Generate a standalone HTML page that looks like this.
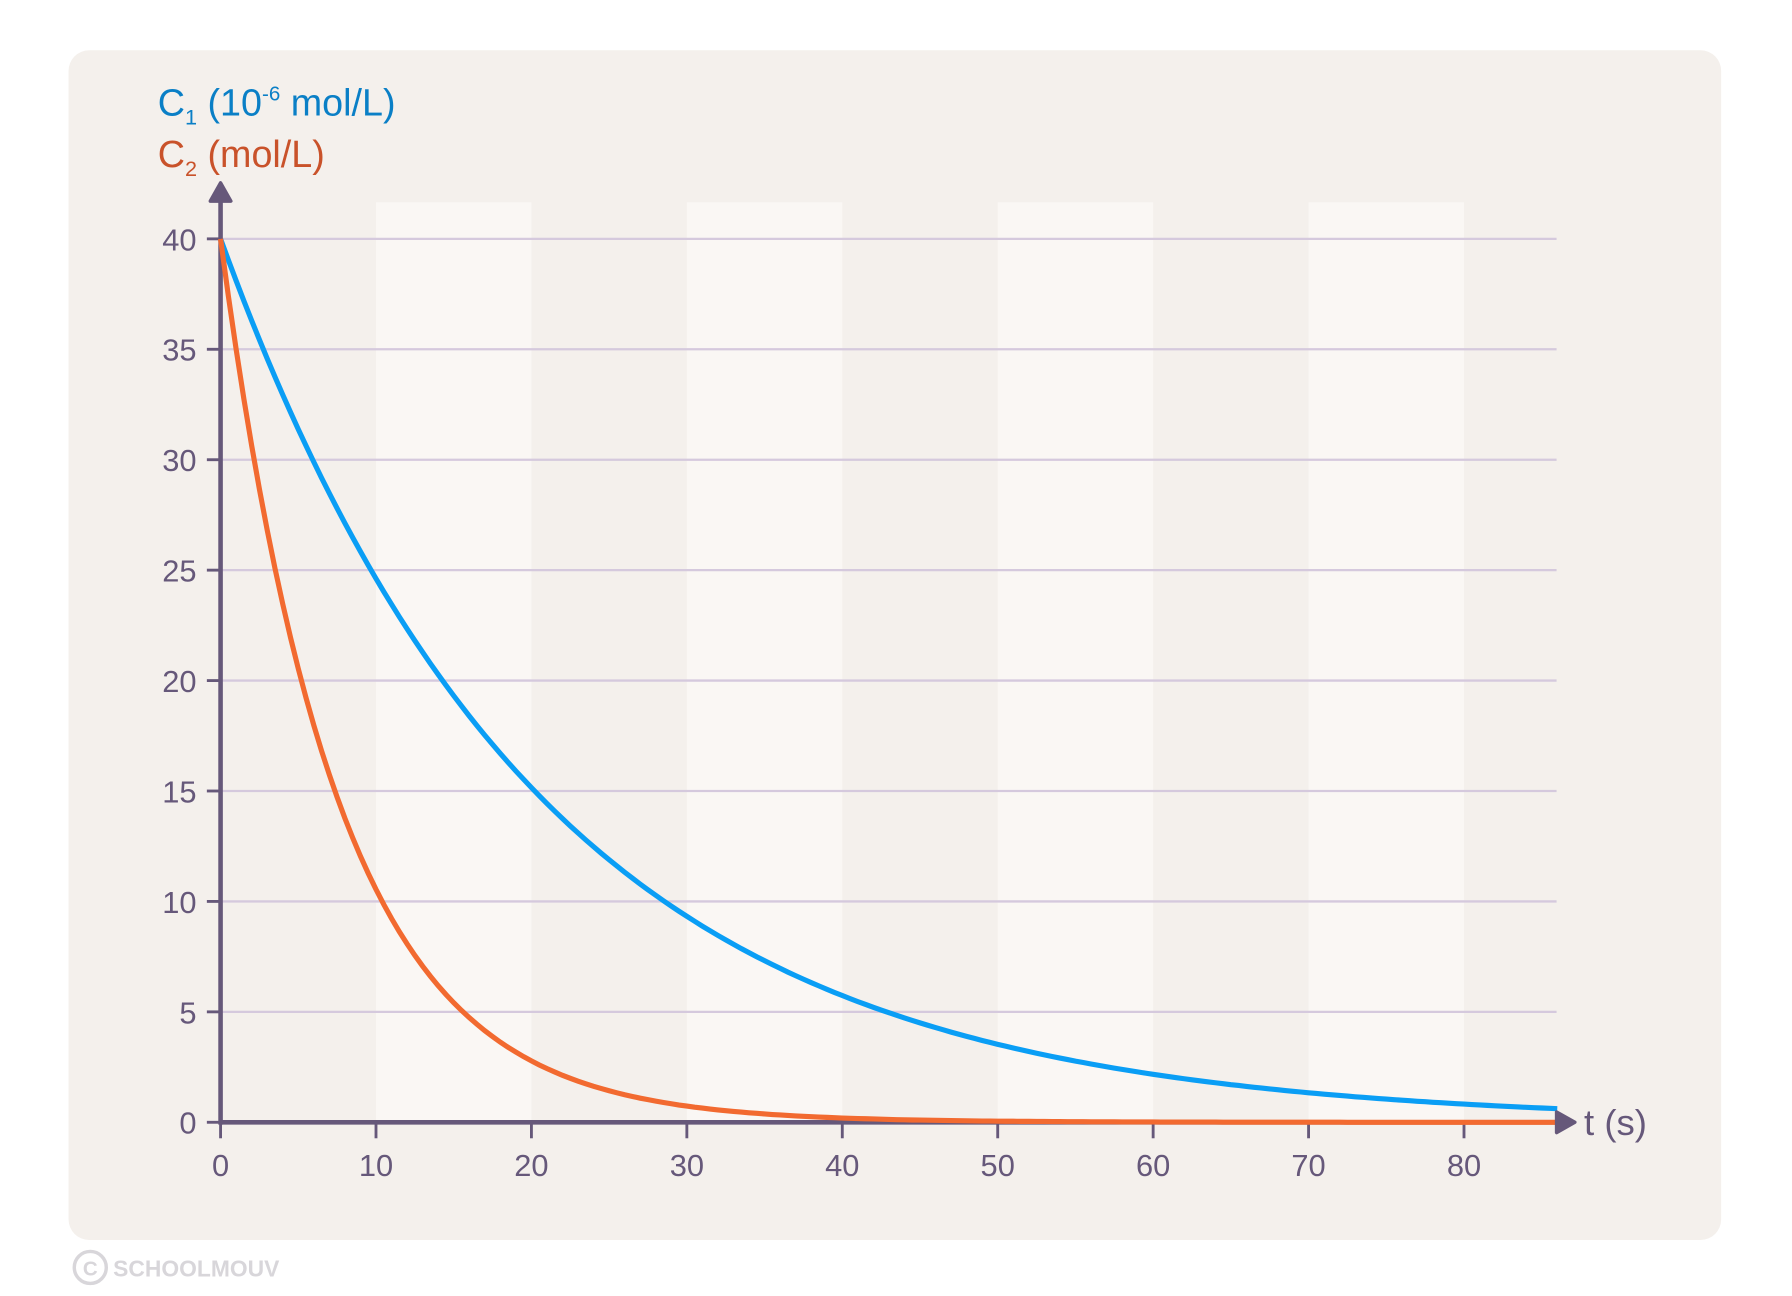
<!DOCTYPE html>
<html><head><meta charset="utf-8"><style>
html,body{margin:0;padding:0;background:#fff}
svg{display:block}
text{font-family:"Liberation Sans",sans-serif}
</style></head><body>
<svg id="s" width="1792" height="1296" viewBox="0 0 1568 1134" preserveAspectRatio="none">
<rect x="60" y="44" width="1446" height="1041" rx="18" fill="#f4f0ec"/>
<g fill="#faf7f4">
<rect x="329" y="177" width="136" height="805"/>
<rect x="601" y="177" width="136" height="805"/>
<rect x="873" y="177" width="136" height="805"/>
<rect x="1145" y="177" width="136" height="805"/>
</g>
<g id="grid" stroke="#d5c9dd" stroke-width="2"></g>
<g id="ticks" stroke="#66587a" stroke-width="2.5"></g>
<g id="lbl" fill="#66587a" font-size="27"></g>
<path id="c1" fill="none" stroke="#0a9ef5" stroke-width="4.5"/>
<line x1="193" y1="982" x2="1366" y2="982" stroke="#66587a" stroke-width="4"/>
<line x1="193" y1="984" x2="193" y2="172" stroke="#66587a" stroke-width="4"/>
<path id="c2" fill="none" stroke="#f26a30" stroke-width="4.5"/>
<polygon points="184,176 193,160 202,176" fill="#66587a" stroke="#66587a" stroke-width="3" stroke-linejoin="round"/>
<polygon points="1362,973 1378,982 1362,991" fill="#66587a" stroke="#66587a" stroke-width="3" stroke-linejoin="round"/>
<text x="1386" y="993" font-size="32" fill="#66587a">t (s)</text>
<text x="138" y="101" font-size="33" fill="#0a7fc6">C<tspan font-size="19" dy="8">1</tspan><tspan dy="-8"> (10</tspan><tspan font-size="18" dy="-13">-6</tspan><tspan dy="13"> mol/L)</tspan></text>
<text x="138" y="146" font-size="33" fill="#c9522a">C<tspan font-size="19" dy="8">2</tspan><tspan dy="-8"> (mol/L)</tspan></text>
<circle cx="79" cy="1109" r="14" fill="none" stroke="#d8d6da" stroke-width="3"/>
<text x="79" y="1116" font-size="18" fill="#d8d6da" text-anchor="middle" font-weight="bold">C</text>
<text x="99" y="1117" font-size="20" fill="#d8d6da" font-weight="bold">SCHOOLMOUV</text>
</svg>
<script>
var ns="http://www.w3.org/2000/svg";
function el(p,t,a,txt){var e=document.createElementNS(ns,t);for(var k in a)e.setAttribute(k,a[k]);if(txt!=null)e.textContent=txt;document.getElementById(p).appendChild(e);}
function X(t){return 193+t*13.6}function Y(v){return 982-v*19.325}
for(var v=5;v<=40;v+=5)el("grid","line",{x1:193,x2:1362,y1:Y(v),y2:Y(v)});
for(var v=0;v<=40;v+=5){el("ticks","line",{x1:181,x2:193,y1:Y(v),y2:Y(v)});el("lbl","text",{x:172,y:Y(v)+10,"text-anchor":"end"},v);}
for(var t=0;t<=80;t+=10){el("ticks","line",{x1:X(t),x2:X(t),y1:982,y2:996});el("lbl","text",{x:X(t),y:1029,"text-anchor":"middle"},t);}
function path(id,tau){var d="";for(var t=0;t<=86;t+=0.5){d+=(t?"L":"M")+X(t).toFixed(1)+","+Y(40*Math.exp(-t/tau)).toFixed(1);}document.getElementById(id).setAttribute("d",d);}
path("c1",20.6);path("c2",7.5);
</script>
</body></html>
